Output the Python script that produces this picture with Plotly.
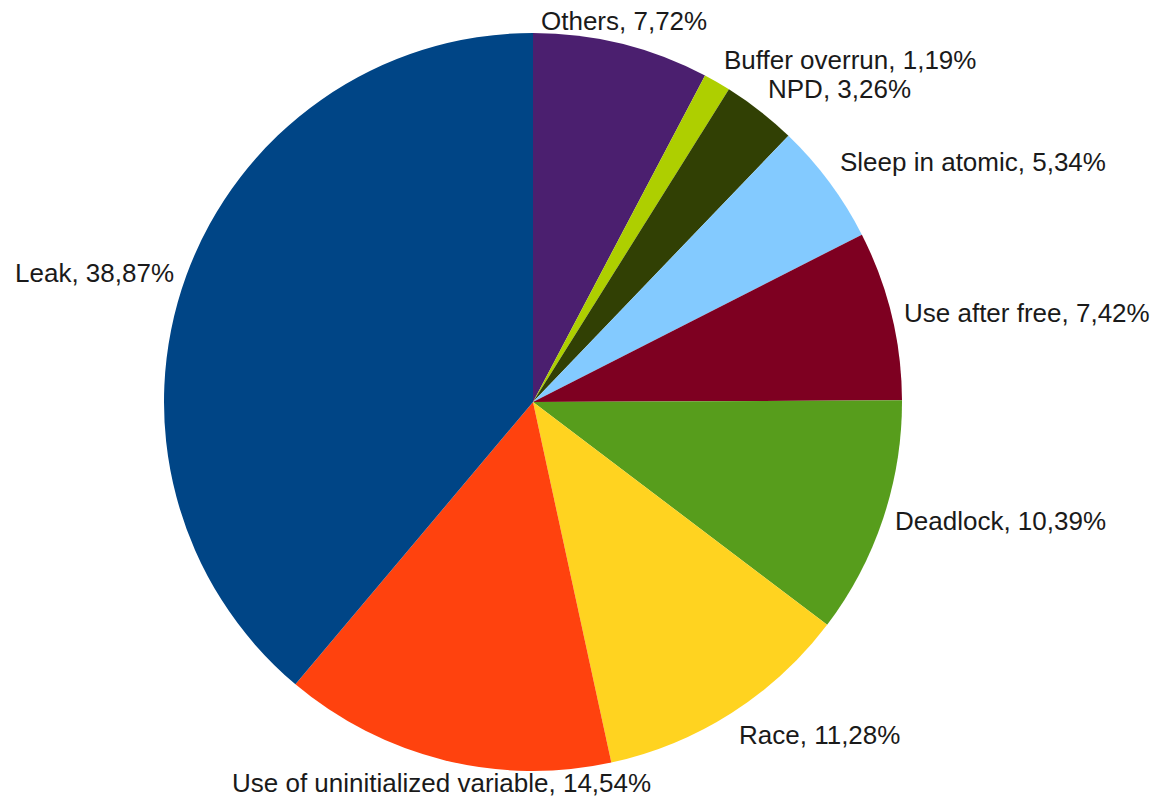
import math
import plotly.graph_objects as go

categories = ["Others", "Buffer overrun", "NPD", "Sleep in atomic", "Use after free",
              "Deadlock", "Race", "Use of uninitialized variable", "Leak"]
values = [7.72, 1.19, 3.26, 5.34, 7.42, 10.39, 11.28, 14.54, 38.87]
colors = ["#4B1F6F", "#AECF00", "#314004", "#83CAFF", "#7E0021",
          "#579D1C", "#FFD320", "#FF420E", "#004586"]

labels_text = [f"{c}, {v:.2f}%".replace(".", ",") for c, v in zip(categories, values)]

W, H = 1163, 801
cx, cy, r = 533, 402, 369
gap_x, gap_y = 12, 7
font = dict(family="Liberation Sans, Arial, sans-serif", size=26, color="#1a1a1a")

fig = go.Figure(go.Pie(
    labels=categories,
    values=values,
    textinfo="none",
    sort=False,
    direction="clockwise",
    rotation=0,
    marker=dict(colors=colors, line=dict(width=0)),
    showlegend=False,
    automargin=False,
    domain=dict(x=[(cx - r) / W, (cx + r) / W], y=[(H - cy - r) / H, (H - cy + r) / H]),
    hoverinfo="label+percent",
))

# Labels placed outside each slice, at the slice's mid-angle (LibreOffice style)
total = sum(values)
cum = 0.0
annotations = []
for txt, v in zip(labels_text, values):
    mid = (cum + v / 2) / total * 2 * math.pi
    cum += v
    s, c = math.sin(mid), math.cos(mid)
    px = cx + (r + gap_x) * s
    py = cy - (r + gap_y) * c
    xa = "center" if abs(s) < 0.3 else ("left" if s > 0 else "right")
    ya = "middle" if abs(c) < 0.4 else ("bottom" if c > 0 else "top")
    annotations.append(dict(
        x=px / W, y=1 - py / H, xref="paper", yref="paper",
        text=txt, showarrow=False, xanchor=xa, yanchor=ya,
        font=font, borderpad=0,
    ))

fig.update_layout(
    width=W, height=H,
    margin=dict(l=0, r=0, t=0, b=0),
    paper_bgcolor="white",
    plot_bgcolor="white",
    annotations=annotations,
)

fig.write_html("out.html")
